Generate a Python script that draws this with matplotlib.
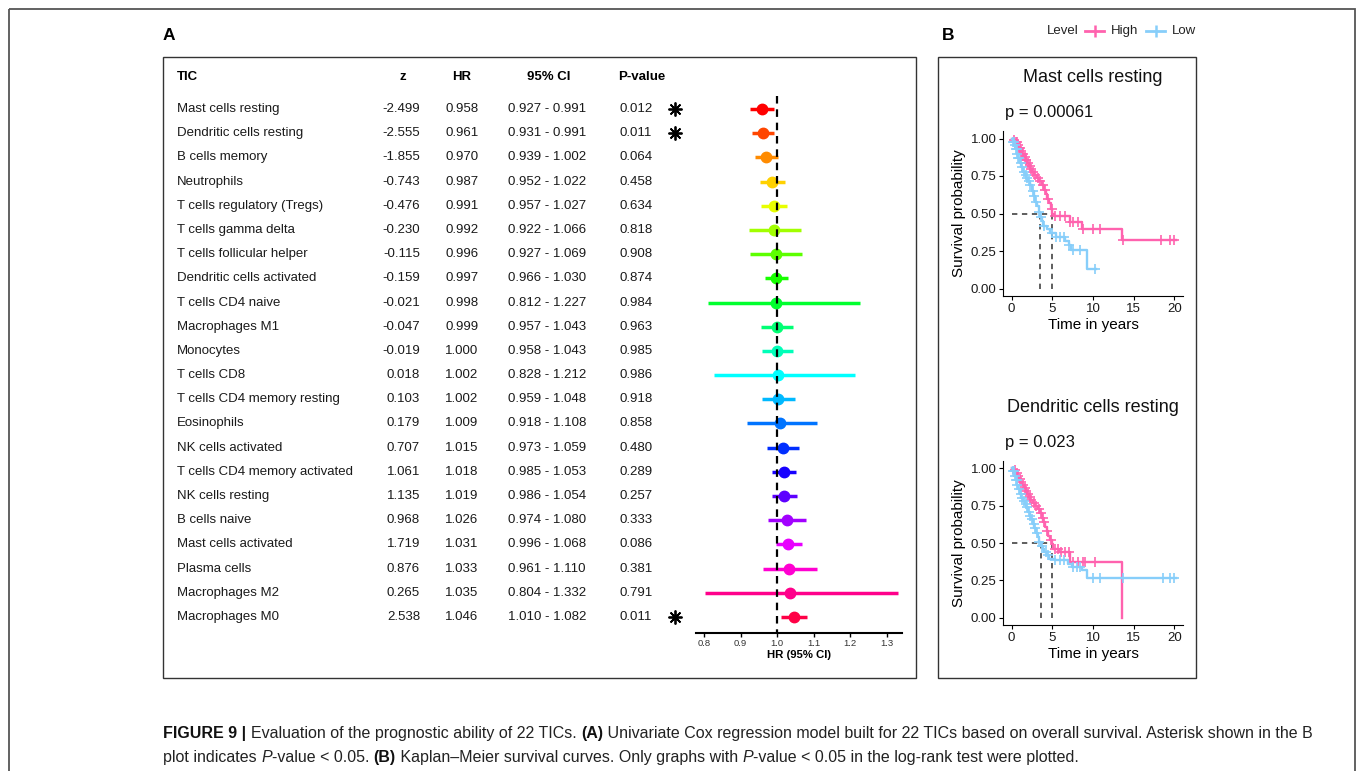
import matplotlib
matplotlib.use('Agg')
import matplotlib.pyplot as plt
import numpy as np
import colorsys
from matplotlib.patches import Rectangle

plt.rcParams['font.family'] = ['Liberation Sans', 'DejaVu Sans']

W, H, DPI = 1357, 771, 100

# ---------------- data: forest plot ----------------
tic = ["Mast cells resting", "Dendritic cells resting", "B cells memory", "Neutrophils",
       "T cells regulatory (Tregs)", "T cells gamma delta", "T cells follicular helper",
       "Dendritic cells activated", "T cells CD4 naive", "Macrophages M1", "Monocytes",
       "T cells CD8", "T cells CD4 memory resting", "Eosinophils", "NK cells activated",
       "T cells CD4 memory activated", "NK cells resting", "B cells naive",
       "Mast cells activated", "Plasma cells", "Macrophages M2", "Macrophages M0"]
z_vals = [-2.499, -2.555, -1.855, -0.743, -0.476, -0.230, -0.115, -0.159, -0.021, -0.047, -0.019,
          0.018, 0.103, 0.179, 0.707, 1.061, 1.135, 0.968, 1.719, 0.876, 0.265, 2.538]
hr = [0.958, 0.961, 0.970, 0.987, 0.991, 0.992, 0.996, 0.997, 0.998, 0.999, 1.000,
      1.002, 1.002, 1.009, 1.015, 1.018, 1.019, 1.026, 1.031, 1.033, 1.035, 1.046]
ci_low = [0.927, 0.931, 0.939, 0.952, 0.957, 0.922, 0.927, 0.966, 0.812, 0.957, 0.958,
          0.828, 0.959, 0.918, 0.973, 0.985, 0.986, 0.974, 0.996, 0.961, 0.804, 1.010]
ci_high = [0.991, 0.991, 1.002, 1.022, 1.027, 1.066, 1.069, 1.030, 1.227, 1.043, 1.043,
           1.212, 1.048, 1.108, 1.059, 1.053, 1.054, 1.080, 1.068, 1.110, 1.332, 1.082]
p_vals = [0.012, 0.011, 0.064, 0.458, 0.634, 0.818, 0.908, 0.874, 0.984, 0.963, 0.985,
          0.986, 0.918, 0.858, 0.480, 0.289, 0.257, 0.333, 0.086, 0.381, 0.791, 0.011]
hr_ticks = [0.8, 0.9, 1.0, 1.1, 1.2, 1.3]
headers = ["TIC", "z", "HR", "95% CI", "P-value"]

# ---------------- data: Kaplan-Meier curves ----------------
# Mast cells resting
km1_high_t = [0, 0.3, 0.5, 0.7, 0.9, 1.1, 1.3, 1.5, 1.7, 1.9, 2.1, 2.3, 2.5, 2.8, 3.1, 3.4, 3.7,
              4.0, 4.2, 4.4, 4.6, 4.8, 5.0, 5.2, 7.2, 8.6, 13.6]
km1_high_s = [1.0, 0.99, 0.98, 0.96, 0.94, 0.92, 0.90, 0.88, 0.86, 0.84, 0.82, 0.80, 0.78, 0.76,
              0.74, 0.72, 0.69, 0.66, 0.63, 0.60, 0.57, 0.53, 0.50, 0.485, 0.445, 0.40, 0.325]
km1_high_end = 20.2
km1_high_cens = [0.3, 0.5, 0.6, 0.8, 0.9, 1.0, 1.2, 1.3, 1.4, 1.6, 1.7, 1.8, 2.0, 2.2, 2.4, 2.6,
                 2.9, 3.2, 3.5, 3.8, 4.1, 4.5, 4.9, 5.3, 5.9, 6.6, 7.2, 7.6, 8.2, 8.8, 10.0, 10.9,
                 13.7, 18.4, 19.5, 19.9]
km1_low_t = [0, 0.2, 0.35, 0.5, 0.65, 0.8, 1.0, 1.2, 1.4, 1.6, 1.8, 2.0, 2.2, 2.5, 2.7, 2.9, 3.1,
             3.3, 3.5, 3.7, 3.9, 4.3, 4.7, 5.4, 6.5, 7.0, 7.3, 9.2]
km1_low_s = [1.0, 0.98, 0.96, 0.93, 0.90, 0.87, 0.84, 0.81, 0.78, 0.76, 0.74, 0.72, 0.69, 0.65,
             0.62, 0.58, 0.55, 0.51, 0.48, 0.45, 0.42, 0.40, 0.37, 0.345, 0.32, 0.29, 0.26, 0.13]
km1_low_end = 10.4
km1_low_cens = [0.2, 0.3, 0.4, 0.5, 0.6, 0.7, 0.8, 0.9, 1.1, 1.3, 1.5, 1.7, 1.9, 2.1, 2.3, 2.6,
                2.8, 3.0, 3.3, 3.6, 4.0, 4.9, 5.5, 5.9, 6.4, 7.0, 7.6, 8.4, 10.3]

# Dendritic cells resting
km2_high_t = [0, 0.3, 0.5, 0.7, 0.9, 1.1, 1.3, 1.5, 1.7, 1.9, 2.1, 2.3, 2.6, 2.9, 3.2, 3.5, 3.7,
              3.9, 4.1, 4.3, 4.5, 4.7, 4.9, 5.1, 5.8, 7.2, 13.6]
km2_high_s = [1.0, 0.99, 0.97, 0.95, 0.93, 0.91, 0.89, 0.87, 0.85, 0.83, 0.81, 0.79, 0.77, 0.75,
              0.73, 0.70, 0.67, 0.64, 0.61, 0.58, 0.55, 0.52, 0.49, 0.463, 0.44, 0.374, 0.0]
km2_high_end = 13.6
km2_high_cens = [0.4, 0.6, 0.8, 1.0, 1.2, 1.4, 1.6, 1.8, 2.0, 2.2, 2.4, 2.7, 3.0, 3.3, 3.6, 3.8,
                 4.0, 4.4, 4.8, 5.3, 5.7, 6.1, 6.6, 7.0, 7.6, 8.2, 8.8, 9.0, 10.2]
km2_low_t = [0, 0.2, 0.35, 0.5, 0.65, 0.8, 1.0, 1.2, 1.4, 1.6, 1.8, 2.0, 2.2, 2.4, 2.6, 2.8, 3.0,
             3.2, 3.4, 3.6, 3.8, 4.0, 4.3, 4.6, 5.3, 6.9, 7.4, 8.6, 9.2]
km2_low_s = [1.0, 0.98, 0.95, 0.92, 0.89, 0.86, 0.83, 0.80, 0.78, 0.76, 0.74, 0.71, 0.68, 0.66,
             0.63, 0.60, 0.57, 0.54, 0.51, 0.48, 0.46, 0.44, 0.42, 0.396, 0.385, 0.362, 0.34,
             0.318, 0.268]
km2_low_end = 20.2
km2_low_cens = [0.2, 0.3, 0.4, 0.5, 0.6, 0.7, 0.9, 1.1, 1.3, 1.5, 1.7, 1.9, 2.1, 2.3, 2.5, 2.7,
                2.9, 3.1, 3.4, 3.7, 4.2, 4.5, 5.3, 5.9, 6.4, 7.6, 8.0, 8.4, 10.0, 10.9, 13.7,
                18.6, 19.5, 19.9]

km_titles = ["Mast cells resting", "Dendritic cells resting"]
km_pvals = ["p = 0.00061", "p = 0.023"]
km_xticks = [0, 5, 10, 15, 20]
km_yticks = [0.0, 0.25, 0.5, 0.75, 1.0]

PINK = '#FF62AE'
BLUE = '#87CEFA'

fig = plt.figure(figsize=(W / DPI, H / DPI), dpi=DPI)


def rect_px(x0, y0, x1, y1):
    return [x0 / W, 1 - y1 / H, (x1 - x0) / W, (y1 - y0) / H]


# background overlay in pixel coordinates
bg = fig.add_axes([0, 0, 1, 1], zorder=-5)
bg.set_xlim(0, W)
bg.set_ylim(H, 0)
bg.axis('off')

bg.add_patch(Rectangle((8.5, 8.5), 1346.5, 800, fill=False, ec='#555555', lw=1.3, clip_on=False))
bg.add_patch(Rectangle((163, 57), 753, 621, fill=False, ec='#333333', lw=1.0))
bg.add_patch(Rectangle((938, 57), 258, 621, fill=False, ec='#333333', lw=1.0))
bg.text(163, 35, "A", fontsize=12.5, fontweight='bold', va='center', ha='left')
bg.text(942, 35, "B", fontsize=12.5, fontweight='bold', va='center', ha='left')

# legend
bg.text(1047, 31, "Level", fontsize=9.5, va='center', ha='left', color='#222222')
bg.plot([1085, 1104], [31, 31], color=PINK, lw=2)
bg.plot([1094.5], [31], marker='|', ms=8, mew=1.8, color=PINK)
bg.text(1111, 31, "High", fontsize=9.5, va='center', ha='left', color='#222222')
bg.plot([1146, 1165], [31, 31], color=BLUE, lw=2)
bg.plot([1155.5], [31], marker='|', ms=8, mew=1.8, color=BLUE)
bg.text(1172, 31, "Low", fontsize=9.5, va='center', ha='left', color='#222222')

# ---------------- forest plot ----------------
ROW0, ROWSP = 109.0, 24.19
Y_TOP_PX, Y_BOT_PX = 60.0, 633.0
ytop = (Y_TOP_PX - ROW0) / ROWSP
ybot = (Y_BOT_PX - ROW0) / ROWSP

n = len(tic)
colors = [colorsys.hsv_to_rgb(i / n, 1, 1) for i in range(n)]

axf = fig.add_axes(rect_px(696, Y_TOP_PX, 902, Y_BOT_PX))
axf.set_xlim(0.778, 1.342)
axf.set_ylim(ybot, ytop)
for i in range(n):
    axf.hlines(i, ci_low[i], ci_high[i], color=colors[i], lw=2.5, zorder=2)
    axf.plot(hr[i], i, 'o', ms=7.5, color=colors[i], zorder=3)
axf.vlines(1.0, -0.55, ybot, colors='black', lw=1.6, linestyles=(0, (3.4, 2.6)), zorder=4)
for s in ['left', 'top', 'right']:
    axf.spines[s].set_visible(False)
axf.spines['bottom'].set_linewidth(1.5)
axf.set_yticks([])
axf.set_xticks(hr_ticks)
axf.set_xticklabels([f"{t:.1f}" for t in hr_ticks])
axf.tick_params(axis='x', labelsize=6.8, length=3, width=1, pad=1.5, colors='black', labelcolor='#333333')
axf.set_xlabel("HR (95% CI)", fontsize=8.2, fontweight='bold', labelpad=1.5)
axf.patch.set_alpha(0)

# table
axt = fig.add_axes(rect_px(163, Y_TOP_PX, 690, Y_BOT_PX), sharey=axf)
axt.set_xlim(163, 690)
axt.axis('off')
FS = 9.5
hy = (77 - ROW0) / ROWSP
axt.text(177, hy, headers[0], fontsize=FS, fontweight='bold', ha='left', va='center')
axt.text(403, hy, headers[1], fontsize=FS, fontweight='bold', ha='center', va='center')
axt.text(462, hy, headers[2], fontsize=FS, fontweight='bold', ha='center', va='center')
axt.text(549, hy, headers[3], fontsize=FS, fontweight='bold', ha='center', va='center')
axt.text(618, hy, headers[4], fontsize=FS, fontweight='bold', ha='left', va='center')
for i in range(n):
    axt.text(177, i, tic[i], fontsize=FS, ha='left', va='center', color='#1a1a1a')
    axt.text(420, i, f"{z_vals[i]:.3f}", fontsize=FS, ha='right', va='center', color='#1a1a1a')
    axt.text(462, i, f"{hr[i]:.3f}", fontsize=FS, ha='center', va='center', color='#1a1a1a')
    axt.text(547, i, f"{ci_low[i]:.3f} - {ci_high[i]:.3f}", fontsize=FS, ha='center', va='center',
             color='#1a1a1a')
    axt.text(619, i, f"{p_vals[i]:.3f}", fontsize=FS, ha='left', va='center', color='#1a1a1a')
    if p_vals[i] < 0.05:
        axt.plot(675, i, marker=(8, 2, 0), ms=10, mew=1.3, color='black', clip_on=False)


# ---------------- Kaplan-Meier ----------------
def step_val(ts, ss, t):
    idx = np.searchsorted(ts, t, side='right') - 1
    return np.asarray(ss)[idx]


def km_panel(box, title, ptxt, title_y, p_y, curves):
    x0, y0, x1, y1 = box
    ax = fig.add_axes(rect_px(x0, y0, x1, y1))
    ax.set_xlim(-1.03, 21.1)
    ax.set_ylim(-0.05, 1.05)
    meds = []
    for ts, ss, end, cens, col in curves:
        ts = np.asarray(ts, float)
        ss = np.asarray(ss, float)
        xs = np.append(ts, end)
        ys = np.append(ss, ss[-1])
        ax.step(xs, ys, where='post', color=col, lw=1.7, zorder=3)
        cy = [step_val(ts, ss, c) for c in cens]
        ax.plot(cens, cy, '+', color=col, ms=7, mew=1.2, zorder=3, linestyle='none')
        meds.append(ts[np.argmax(ss <= 0.5)])
    mx = max(meds)
    ax.plot([0, mx], [0.5, 0.5], color='#333333', lw=1.1, ls=(0, (3.5, 3)), zorder=2)
    for m in meds:
        ax.plot([m, m], [0, 0.5], color='#333333', lw=1.1, ls=(0, (3.5, 3)), zorder=2)
    ax.spines['top'].set_visible(False)
    ax.spines['right'].set_visible(False)
    ax.set_xticks(km_xticks)
    ax.set_yticks(km_yticks)
    ax.set_yticklabels([f"{v:.2f}" for v in km_yticks])
    ax.tick_params(labelsize=9.5, length=3, pad=2, labelcolor='#1a1a1a')
    ax.set_ylabel("Survival probability", fontsize=11, labelpad=3)
    ax.set_xlabel("Time in years", fontsize=11, labelpad=2.5)
    ax.patch.set_alpha(0)
    bg.text(1093, title_y, title, fontsize=13, ha='center', va='center', color='#111111')
    bg.text(1005, p_y, ptxt, fontsize=12, ha='left', va='center', color='#111111')


km_panel((1003.3, 131, 1183.3, 296), km_titles[0], km_pvals[0], 78, 113,
         [(km1_high_t, km1_high_s, km1_high_end, km1_high_cens, PINK),
          (km1_low_t, km1_low_s, km1_low_end, km1_low_cens, BLUE)])
km_panel((1003.3, 461, 1183.3, 625), km_titles[1], km_pvals[1], 407, 442,
         [(km2_high_t, km2_high_s, km2_high_end, km2_high_cens, PINK),
          (km2_low_t, km2_low_s, km2_low_end, km2_low_cens, BLUE)])

# ---------------- caption ----------------
renderer = fig.canvas.get_renderer()


def rich_line(x, y, segs, size=11.55):
    for txt, wt, st in segs:
        t = bg.text(x, y, txt, fontsize=size, fontweight=wt, fontstyle=st, ha='left',
                    va='baseline', color='#222222' if wt == 'normal' else '#111111')
        bb = t.get_window_extent(renderer=renderer)
        x += bb.width


rich_line(163, 738, [("FIGURE 9 | ", 'bold', 'normal'),
                     ("Evaluation of the prognostic ability of 22 TICs. ", 'normal', 'normal'),
                     ("(A)", 'bold', 'normal'),
                     (" Univariate Cox regression model built for 22 TICs based on overall survival. "
                      "Asterisk shown in the B", 'normal', 'normal')])
rich_line(163, 762, [("plot indicates ", 'normal', 'normal'),
                     ("P", 'normal', 'italic'),
                     ("-value < 0.05. ", 'normal', 'normal'),
                     ("(B)", 'bold', 'normal'),
                     (" Kaplan\u2013Meier survival curves. Only graphs with ", 'normal', 'normal'),
                     ("P", 'normal', 'italic'),
                     ("-value < 0.05 in the log-rank test were plotted.", 'normal', 'normal')])

fig.savefig("out.png", dpi=DPI)
